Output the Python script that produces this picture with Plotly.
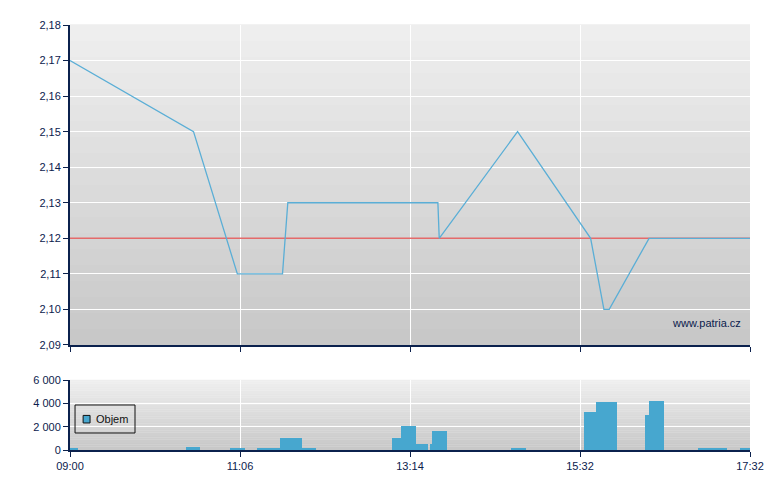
import plotly.graph_objects as go

# ---- data (x in session-axis units, 0 = 09:00, 512 = 17:32) ----
tick_pos = [0, 128, 256, 384, 512]
tick_labels = ["09:00", "11:06", "13:14", "15:32", "17:32"]

price_x = [0, 93, 126, 160, 164, 277, 278, 337, 392, 402, 406, 436, 512]
price_y = [2.17, 2.15, 2.11, 2.11, 2.13, 2.13, 2.12, 2.15, 2.12, 2.10, 2.10, 2.12, 2.12]

prev_close = 2.12

vol_start = [0, 87, 120.5, 141, 158, 175, 242.5, 249, 260.5, 271, 272.6, 332, 387, 396, 433, 436, 473, 504.5]
vol_end = [5.8, 98, 132, 158, 175, 185, 249, 260.5, 269.6, 272.6, 284, 343.4, 396, 412, 436, 447.3, 494.7, 512]
vol_values = [200, 300, 100, 100, 1050, 100, 1030, 2060, 510, 510, 1630, 100, 3260, 4110, 3000, 4200, 100, 100]

price_ticks = [2.09, 2.10, 2.11, 2.12, 2.13, 2.14, 2.15, 2.16, 2.17, 2.18]
vol_ticks = [0, 2000, 4000, 6000]

legend_label = "Objem"
watermark = "www.patria.cz"

NAVY = "#0b214d"
FONT = "Liberation Sans"
BAR_COLOR = "#47a7cf"

fig = go.Figure()

fig.add_trace(go.Scatter(x=[tick_pos[0], tick_pos[-1]], y=[prev_close, prev_close], mode="lines",
                         line=dict(color="#e46a6a", width=1.5), showlegend=False,
                         xaxis="x", yaxis="y", hoverinfo="skip"))
fig.add_trace(go.Scatter(x=price_x, y=price_y, mode="lines",
                         line=dict(color="#5aaed6", width=1.3), showlegend=False,
                         xaxis="x", yaxis="y"))

centers = [(a + b) / 2 for a, b in zip(vol_start, vol_end)]
widths = [(b - a) for a, b in zip(vol_start, vol_end)]
fig.add_trace(go.Bar(x=centers, y=vol_values, width=widths, name=legend_label,
                     marker=dict(color=BAR_COLOR, line=dict(width=0)),
                     showlegend=False, xaxis="x2", yaxis="y2"))

# gradient background stripes
shapes = []
N = 40
top_c = (239, 239, 239)
bot_c = (199, 199, 199)
for xr, yr in (("x domain", "y domain"), ("x2 domain", "y2 domain")):
    for i in range(N):
        t = (i + 0.5) / N
        c = tuple(int(round(bot_c[k] + (top_c[k] - bot_c[k]) * t)) for k in range(3))
        shapes.append(dict(type="rect", xref=xr, yref=yr, x0=0, x1=1, y0=i / N, y1=(i + 1) / N + 0.002,
                           fillcolor="rgb(%d,%d,%d)" % c, line=dict(width=0), layer="below"))

# legend box (drawn)
shapes.append(dict(type="rect", xref="x2 domain", yref="y2 domain", x0=0.0074, x1=0.0956,
                   y0=0.243, y1=0.643, line=dict(color="#111111", width=1), fillcolor="rgba(0,0,0,0)",
                   layer="above"))
shapes.append(dict(type="rect", xref="x2 domain", yref="y2 domain", x0=0.0193, x1=0.0295,
                   y0=0.386, y1=0.494, line=dict(color="#111111", width=1), fillcolor=BAR_COLOR,
                   layer="above"))

axis_common = dict(showline=True, linecolor=NAVY, linewidth=2, ticks="outside", ticklen=5,
                   tickcolor=NAVY, tickwidth=1, gridcolor="white", gridwidth=1,
                   tickfont=dict(family=FONT, size=11, color=NAVY), zeroline=False)

fig.update_layout(
    width=780, height=490,
    margin=dict(l=62, r=38, t=17, b=48),
    paper_bgcolor="white", plot_bgcolor="rgba(0,0,0,0)",
    separators=", ",
    shapes=shapes,
    showlegend=False,
    xaxis=dict(domain=[0, 1], range=[tick_pos[0], tick_pos[-1]], tickvals=tick_pos,
               showticklabels=False, anchor="y", **axis_common),
    yaxis=dict(domain=[0.2471, 1], range=[price_ticks[0], price_ticks[-1]], tickvals=price_ticks,
               tickformat=".2f", anchor="x", **axis_common),
    xaxis2=dict(domain=[0, 1], range=[tick_pos[0], tick_pos[-1]], tickvals=tick_pos,
                ticktext=tick_labels, anchor="y2", **axis_common),
    yaxis2=dict(domain=[0, 0.1647], range=[vol_ticks[0], vol_ticks[-1]], tickvals=vol_ticks,
                tickformat=",d", anchor="x2", **axis_common),
    bargap=0,
    annotations=[
        dict(text=watermark, xref="x domain", yref="y", x=0.9897, y=2.0962,
             xanchor="right", yanchor="middle", showarrow=False,
             font=dict(family=FONT, size=11, color=NAVY)),
        dict(text=legend_label, xref="x2 domain", yref="y2 domain", x=0.0355, y=0.44,
             xanchor="left", yanchor="middle", showarrow=False,
             font=dict(family=FONT, size=11, color="#111111")),
    ],
)

fig.write_html("out.html")
